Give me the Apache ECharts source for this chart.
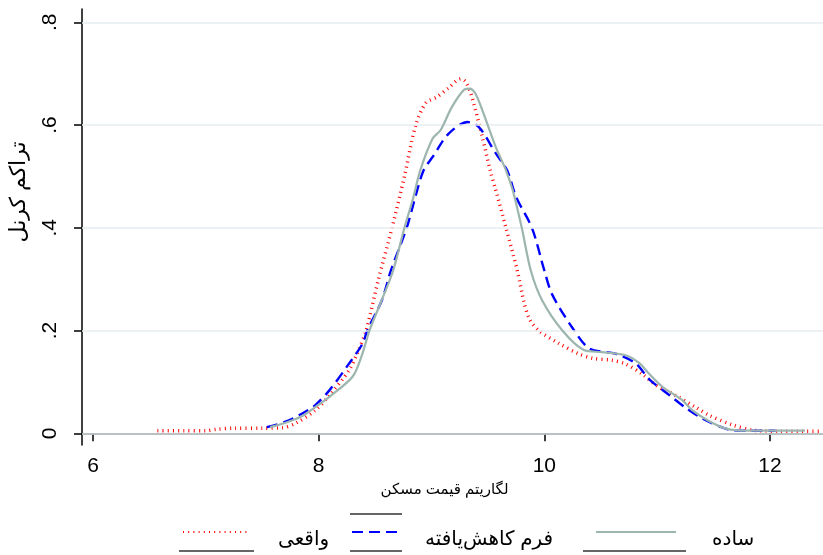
<!DOCTYPE html>
<html>
<head>
<meta charset="utf-8">
<script src="https://cdn.jsdelivr.net/npm/echarts@6/dist/echarts.min.js"></script>
<style>
  html, body { margin: 0; padding: 0; background: #fff; }
  #chart { width: 823px; height: 555px; }
</style>
</head>
<body>
<div id="chart"></div>
<script>
// تراکم کرنل - لگاریتم قیمت مسکن
var xTicks = [6, 8, 10, 12];
var yTicks = [0, 0.2, 0.4, 0.6, 0.8];
var seriesNames = ['واقعی', 'فرم کاهش‌یافته', 'ساده'];

// واقعی
var realX = [6.57, 6.8, 7.0, 7.1, 7.25, 7.5, 7.68, 7.8, 7.97, 8.1, 8.27, 8.35, 8.42, 8.53, 8.65, 8.76, 8.86, 8.95, 9.05, 9.15, 9.26, 9.3, 9.35, 9.45, 9.52, 9.57, 9.66, 9.76, 9.82, 9.87, 9.95, 10.13, 10.3, 10.43, 10.6, 10.72, 10.87, 11.0, 11.16, 11.34, 11.46, 11.67, 11.85, 12.1, 12.5];
var realY = [0.005, 0.005, 0.005, 0.008, 0.01, 0.01, 0.011, 0.02, 0.045, 0.075, 0.123, 0.16, 0.2, 0.3, 0.4, 0.5, 0.6, 0.643, 0.655, 0.672, 0.69, 0.685, 0.661, 0.577, 0.512, 0.473, 0.4, 0.317, 0.255, 0.222, 0.2, 0.175, 0.155, 0.146, 0.142, 0.135, 0.115, 0.092, 0.074, 0.051, 0.035, 0.016, 0.006, 0.004, 0.004];

// فرم کاهش‌یافته
var reducedX = [7.54, 7.7, 7.85, 7.97, 8.1, 8.27, 8.39, 8.43, 8.56, 8.64, 8.78, 8.86, 8.93, 9.01, 9.15, 9.32, 9.42, 9.57, 9.67, 9.75, 9.89, 10.0, 10.07, 10.25, 10.4, 10.63, 10.81, 10.93, 11.11, 11.25, 11.4, 11.64, 11.8, 12.05];
var reducedY = [0.012, 0.022, 0.038, 0.055, 0.085, 0.136, 0.175, 0.2, 0.259, 0.317, 0.4, 0.463, 0.512, 0.538, 0.583, 0.606, 0.596, 0.545, 0.512, 0.46, 0.4, 0.317, 0.27, 0.205, 0.165, 0.155, 0.136, 0.105, 0.074, 0.05, 0.029, 0.007, 0.005, 0.005];

// ساده
var simpleX = [7.57, 7.7, 7.85, 7.97, 8.1, 8.3, 8.38, 8.45, 8.56, 8.66, 8.76, 8.84, 8.9, 9.01, 9.08, 9.18, 9.29, 9.34, 9.39, 9.45, 9.57, 9.66, 9.72, 9.8, 9.88, 9.98, 10.16, 10.35, 10.51, 10.72, 10.84, 10.92, 11.05, 11.22, 11.31, 11.45, 11.61, 11.8, 12.0, 12.31];
var simpleY = [0.012, 0.02, 0.033, 0.051, 0.072, 0.11, 0.15, 0.2, 0.26, 0.317, 0.4, 0.46, 0.512, 0.574, 0.59, 0.635, 0.669, 0.671, 0.661, 0.629, 0.557, 0.512, 0.473, 0.4, 0.317, 0.259, 0.2, 0.162, 0.158, 0.152, 0.137, 0.118, 0.09, 0.065, 0.045, 0.025, 0.009, 0.005, 0.005, 0.005];

function pairs(xs, ys) {
  return xs.map(function (x, i) { return [x, ys[i]]; });
}

var fontFam = "'Liberation Sans', 'DejaVu Sans', sans-serif";
var myChart = echarts.init(document.getElementById('chart'));

// legend keys only (text drawn below, a bit lower like the original)
function legendKey(name, left, w) {
  return {
    data: [name], left: left, top: 525, padding: 0,
    itemWidth: w, itemHeight: 14,
    itemStyle: { opacity: 0 },
    formatter: function () { return ''; }
  };
}
function legendLabel(name, x) {
  return {
    type: 'text', x: x, y: 539,
    style: { text: name, font: '20px ' + fontFam, fill: '#000', textAlign: 'left', textVerticalAlign: 'middle' }
  };
}
function greyRule(x1, x2, y) {
  return { type: 'line', shape: { x1: x1, y1: y, x2: x2, y2: y }, style: { stroke: '#666', lineWidth: 2 } };
}

var option = {
  backgroundColor: '#fff',
  animation: false,
  textStyle: { fontFamily: fontFam },
  grid: { left: 79, right: 0, top: 9, bottom: 110, containLabel: false },
  xAxis: {
    type: 'value',
    min: 5.902,
    max: 12.47,
    name: 'لگاریتم قیمت مسکن',
    nameLocation: 'middle',
    nameGap: 32,
    nameTextStyle: { fontSize: 15, color: '#000', fontFamily: fontFam, padding: [0, 16, 0, 0] },
    axisLine: { show: true, lineStyle: { color: '#000', width: 1.5 } },
    axisTick: { show: true, length: 8, customValues: xTicks, lineStyle: { color: '#000', width: 1.5 } },
    axisLabel: { customValues: xTicks, fontSize: 21, color: '#000', margin: 11, fontFamily: fontFam },
    splitLine: { show: false }
  },
  yAxis: {
    type: 'value',
    min: -0.0228,
    max: 0.826,
    name: 'تراکم کرنل',
    nameLocation: 'middle',
    nameRotate: 90,
    nameGap: 52,
    nameTextStyle: { fontSize: 22, color: '#000', fontFamily: fontFam, padding: [0, 0, 0, 70] },
    axisLine: { show: true, lineStyle: { color: '#000', width: 1.5 } },
    axisTick: { show: true, length: 8, customValues: yTicks, lineStyle: { color: '#000', width: 1.5 } },
    axisLabel: {
      customValues: yTicks,
      rotate: 90,
      fontSize: 21,
      color: '#000',
      margin: 21,
      fontFamily: fontFam,
      formatter: function (v) { return v === 0 ? '0' : String(v).replace('0.', '.'); }
    },
    splitLine: { show: false }
  },
  legend: [
    legendKey(seriesNames[0], 182, 66),
    legendKey(seriesNames[1], 351, 50),
    legendKey(seriesNames[2], 595, 80)
  ],
  graphic: [
    legendLabel(seriesNames[0], 278),
    legendLabel(seriesNames[1], 425),
    legendLabel(seriesNames[2], 712),
    greyRule(179, 254, 551),
    greyRule(350, 402, 551),
    greyRule(350, 402, 514),
    greyRule(583, 686, 551)
  ],
  series: [
    {
      name: 'grid',
      type: 'line',
      data: [],
      silent: true,
      z: 1,
      markLine: {
        silent: true,
        symbol: 'none',
        label: { show: false },
        lineStyle: { color: '#e6eef0', width: 1.5, type: 'solid' },
        data: yTicks.map(function (v) { return { yAxis: v }; })
      }
    },
    {
      name: seriesNames[0],
      type: 'line',
      data: pairs(realX, realY),
      symbol: 'none',
      smooth: 0.3,
      z: 3,
      lineStyle: { color: '#ff0000', width: 3.5, type: [1, 4.2], cap: 'butt' },
      itemStyle: { color: '#ff0000' }
    },
    {
      name: seriesNames[1],
      type: 'line',
      data: pairs(reducedX, reducedY),
      symbol: 'none',
      smooth: 0.3,
      z: 4,
      lineStyle: { color: '#0000ff', width: 2.4, type: [11, 6] },
      itemStyle: { color: '#0000ff' }
    },
    {
      name: seriesNames[2],
      type: 'line',
      data: pairs(simpleX, simpleY),
      symbol: 'none',
      smooth: 0.3,
      z: 5,
      lineStyle: { color: '#9cb5ae', width: 2.2, type: 'solid' },
      itemStyle: { color: '#9cb5ae' }
    }
  ]
};

myChart.setOption(option);
</script>
</body>
</html>
